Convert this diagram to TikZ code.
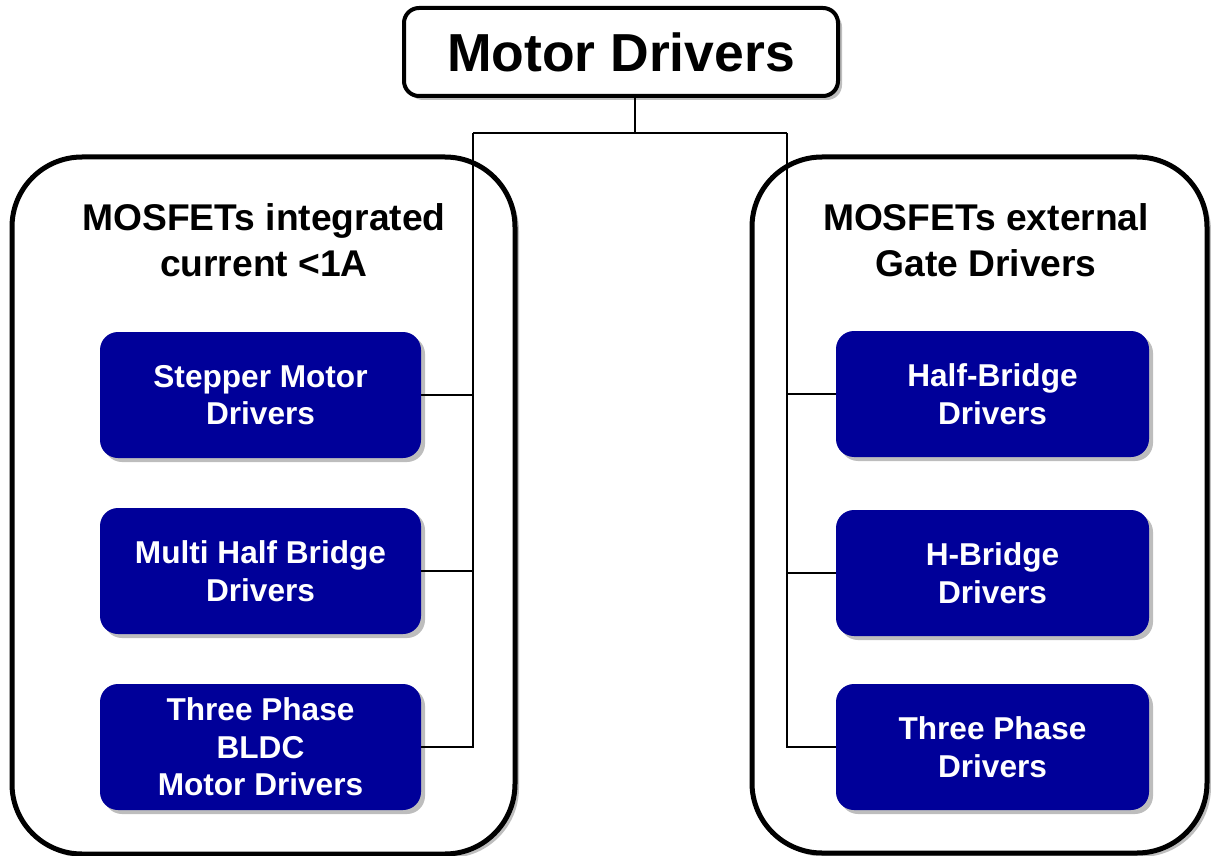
\documentclass[tikz,border=0pt]{standalone}
\usepackage{fontspec}
\setmainfont{Liberation Sans}
\usetikzlibrary{positioning,shadows}
\definecolor{drvblue}{RGB}{0,0,153}
\definecolor{drvshadow}{RGB}{110,110,110}

\begin{document}
\begin{tikzpicture}[x=1pt, y=-1pt,
  shade/.style={drop shadow={shadow xshift=4pt, shadow yshift=-4pt, fill=drvshadow, opacity=0.45}},
  title/.style={draw, line width=4pt, rounded corners=15pt, fill=white, shade, minimum width=434pt, minimum height=88pt, font=\fontsize{53.5}{60}\selectfont\bfseries},
  group/.style={draw, line width=5pt, rounded corners=70pt, fill=white, shade},
  head/.style={align=center, font=\fontsize{37.2}{46}\selectfont\bfseries},
  drv/.style={fill=drvblue, text=white, rounded corners=18pt, shade, align=center, minimum height=126pt, font=\fontsize{31.6}{37.5}\selectfont\bfseries},
  wire/.style={line width=2pt}]
  \useasboundingbox (0,0) rectangle (1211,856);
  % Top box
  \node[title] (top) at (621,52) {Motor Drivers};
  % Two groups
  \node[group, minimum width=503pt, minimum height=697pt] (intgrp) at (263.5,505.5) {};
  \node[group, minimum width=455pt, minimum height=696pt] (extgrp) at (979.5,505) {};
  \node[head] (inthead) at (264,240) {MOSFETs integrated\\current <1A};
  \node[head] (exthead) at (986,240) {MOSFETs external\\Gate Drivers};
  % Bus lines
  \coordinate (hub) at (635,133);
  \coordinate (lbus) at (473,133);
  \coordinate (rbus) at (787,133);
  % Driver boxes (left)
  \node[drv, minimum width=321pt] (stepper) at (260.5,395) {Stepper Motor\\Drivers};
  \node[drv, minimum width=321pt] (multi) at (260.5,571) {Multi Half Bridge\\Drivers};
  \node[drv, minimum width=321pt] (bldc) at (260.5,747) {Three Phase\\BLDC\\Motor Drivers};
  % Driver boxes (right)
  \node[drv, minimum width=313pt] (half) at (992.5,394) {Half-Bridge\\Drivers};
  \node[drv, minimum width=313pt] (hbridge) at (992.5,573) {H-Bridge\\Drivers};
  \node[drv, minimum width=313pt] (three) at (992.5,747) {Three Phase\\Drivers};
  % Connectors
  \draw[wire] (top.south -| hub) -- (hub);
  \draw[wire] (lbus) -- (rbus);
  \draw[wire] (lbus) -- (lbus |- bldc.east) -- (bldc.east);
  \draw[wire] (stepper.east) -- (stepper.east -| lbus);
  \draw[wire] (multi.east) -- (multi.east -| lbus);
  \draw[wire] (rbus) -- (rbus |- three.west) -- (three.west);
  \draw[wire] (half.west) -- (half.west -| rbus);
  \draw[wire] (hbridge.west) -- (hbridge.west -| rbus);
\end{tikzpicture}
\end{document}
